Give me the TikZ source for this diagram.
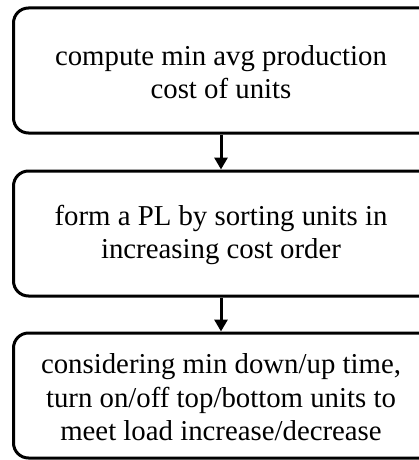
\documentclass[tikz,border=0pt]{standalone}
\usepackage{fontspec}
\setmainfont{Liberation Serif}
\usetikzlibrary{arrows.meta}
\begin{document}
\begin{tikzpicture}[x=1pt,y=1pt,
  stepbox/.style={draw=black, line width=3pt, rounded corners=15pt,
    minimum width=430pt, minimum height=125pt, inner sep=0pt, anchor=west},
  steptext/.style={align=center, font=\fontsize{28.8pt}{33.5pt}\selectfont},
  flow/.style={draw=black, line width=3pt,
    -{Triangle[width=13pt,length=12pt]}}]
  \useasboundingbox (0,0) rectangle (419,-460);
  % boxes run from x=12 to past the right page edge
  \node[stepbox] (cost) at (12,-70.5) {};
  \node[stepbox] (sort) at (12,-233.5) {};
  \node[stepbox] (commit) at (12,-395.5) {};
  \node[steptext] (costtext) at (221,-72)
    {compute min avg production\\cost of units};
  \node[steptext] (sorttext) at (221,-235)
    {form a PL by sorting units in\\increasing cost order};
  \node[steptext] (committext) at (221,-397.5)
    {considering min down/up time,\\turn on/off top/bottom units to\\meet load increase/decrease};
  \draw[flow] (cost.south -| costtext.south) -- (sort.north -| sorttext.north);
  \draw[flow] (sort.south -| sorttext.south) -- (commit.north -| committext.north);
\end{tikzpicture}
\end{document}
